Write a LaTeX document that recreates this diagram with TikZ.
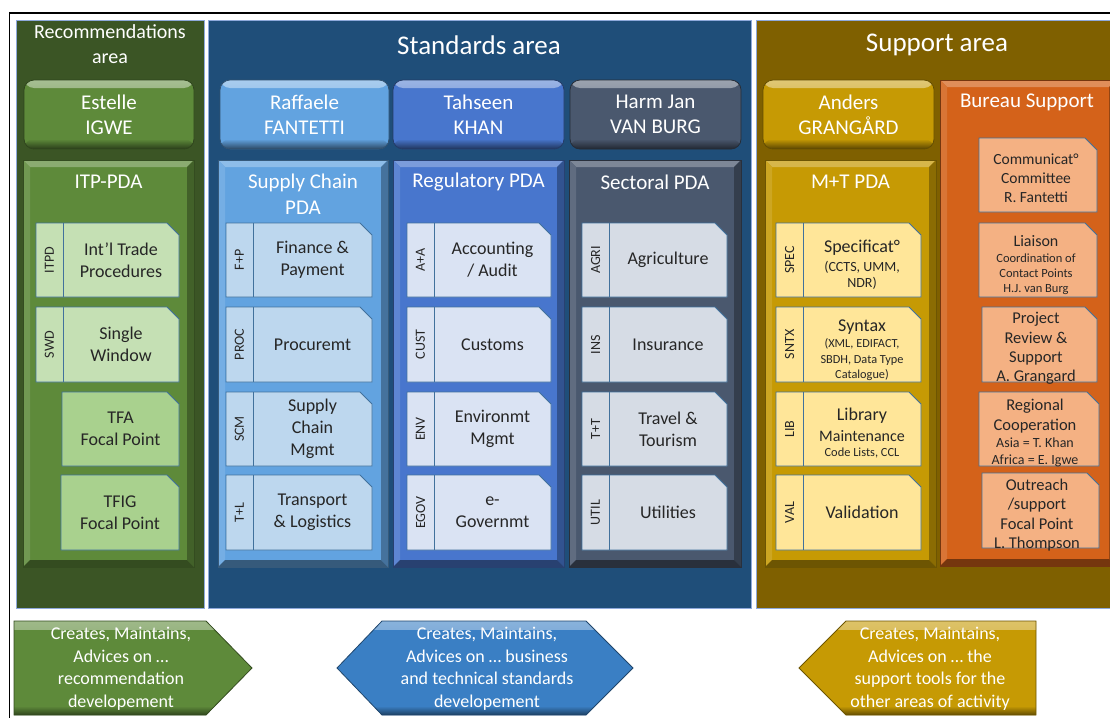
\documentclass[tikz,border=0pt]{standalone}
\usepackage{fontspec}
\setmainfont{Carlito}
\definecolor{recarea}{HTML}{3B5525}
\definecolor{stdarea}{HTML}{1F4E79}
\definecolor{suparea}{HTML}{7F6000}
\definecolor{areaedge}{HTML}{8EA9DB}
\definecolor{cgreen}{HTML}{5E8A3A}
\definecolor{clblue}{HTML}{62A3E0}
\definecolor{cblue}{HTML}{4876CD}
\definecolor{cslate}{HTML}{4A586E}
\definecolor{cgold}{HTML}{C69A04}
\definecolor{corange}{HTML}{D4621A}
\definecolor{kgreenA}{HTML}{C5E0B4}
\definecolor{kgreenB}{HTML}{A9D18E}
\definecolor{klblue}{HTML}{BDD7EE}
\definecolor{kblue}{HTML}{DAE3F3}
\definecolor{kslate}{HTML}{D6DCE5}
\definecolor{kgold}{HTML}{FFE699}
\definecolor{korange}{HTML}{F4B183}
\definecolor{cardedge}{HTML}{41719C}
\definecolor{txt}{HTML}{262626}
\definecolor{arblue}{HTML}{3A7FC4}
\tikzset{
  fs/.style 2 args={font=\fontsize{#1}{#2}\selectfont},
  area/.style={fill=#1, draw=areaedge, line width=0.8pt},
  person/.style={fill=#1, draw=#1!50!black, line width=0.8pt, rounded corners=10pt,
    text=white, align=center, fs={21}{25},
    path picture={
      \shade[top color=#1!55!white, bottom color=#1] (path picture bounding box.north west) rectangle ([yshift=-8pt]path picture bounding box.north east);
      \shade[top color=#1, bottom color=#1!45!black] ([yshift=10pt]path picture bounding box.south west) rectangle (path picture bounding box.south east);
    }},
  pda/.style={fill=#1, draw=#1!55!black, line width=0.8pt, path picture={
      \fill[#1!72!white] (path picture bounding box.north west) -- (path picture bounding box.north east) -- ([shift={(-7pt,-7pt)}]path picture bounding box.north east) -- ([shift={(7pt,-7pt)}]path picture bounding box.north west) -- cycle;
      \fill[#1!88!white] (path picture bounding box.north west) -- ([shift={(7pt,-7pt)}]path picture bounding box.north west) -- ([shift={(7pt,7pt)}]path picture bounding box.south west) -- (path picture bounding box.south west) -- cycle;
      \fill[#1!70!black] (path picture bounding box.north east) -- (path picture bounding box.south east) -- ([shift={(-7pt,7pt)}]path picture bounding box.south east) -- ([shift={(-7pt,-7pt)}]path picture bounding box.north east) -- cycle;
      \fill[#1!55!black] (path picture bounding box.south west) -- (path picture bounding box.south east) -- ([shift={(-7pt,7pt)}]path picture bounding box.south east) -- ([shift={(7pt,7pt)}]path picture bounding box.south west) -- cycle;
    }},
  arrowbox/.style={fill=#1, draw=#1!55!black, line width=0.8pt, path picture={
      \shade[top color=#1!60!white, bottom color=#1] (path picture bounding box.north west) rectangle ([yshift=-8pt]path picture bounding box.north east);
      \shade[top color=#1, bottom color=#1!50!black] ([yshift=9pt]path picture bounding box.south west) rectangle (path picture bounding box.south east);
    }},
  ttl/.style={text=white, align=center, inner sep=0},
  cardbg/.style={fill=#1, draw=cardedge, line width=0.9pt},
  cardline/.style={draw=cardedge, line width=0.9pt},
  vlab/.style={rotate=90, text=txt, fs={14}{16}, inner sep=0},
  ctext/.style={text=txt, align=center, fs={18}{22}, inner sep=0},
  ln/.style={text=txt, anchor=base, inner sep=0},
  atext/.style={text=white, align=center, fs={18}{22.5}, inner sep=0},
}
% box node by corners
\newcommand\bx[7]{\node[#6, anchor=north west, inner sep=0, outer sep=0,
  minimum width={(#4-#2)*1pt}, minimum height={(#5-#3)*1pt}] (#1) at (#2,#3) {#7};}
% card with tag column
\newcommand\card[8]{%
  \path[cardbg=#6] (#2,#3) -- ({#4-12},#3) -- (#4,{#3+12}) -- (#4,#5) -- (#2,#5) -- cycle;
  \draw[cardline] ({#2+27},#3) -- ({#2+27},#5);
  \node[vlab] (#1-tag) at ({#2+13.5},{(#3+#5)/2}) {#7};
  \node[ctext] (#1) at ({(#2+27+#4)/2},{(#3+#5)/2}) {#8};}
% card without tag column
\newcommand\pcard[7]{%
  \path[cardbg=#6] (#2,#3) -- ({#4-12},#3) -- (#4,{#3+12}) -- (#4,#5) -- (#2,#5) -- cycle;
  \node[ctext] (#1) at ({(#2+#4)/2},{(#3+#5)/2}) {#7};}
\begin{document}
\begin{tikzpicture}[x=1pt,y=-1pt]
\useasboundingbox (0,0) rectangle (1110,717);
% frame
\draw[line width=2.5pt] (9,13) -- (1115,13);
\draw[line width=1.5pt] (9.5,12) -- (9.5,720);
% areas
\bx{recA}{16}{20}{204}{608}{area=recarea}{}
\bx{stdA}{208}{20}{751}{608}{area=stdarea}{}
\bx{supA}{756}{20}{1116}{608}{area=suparea}{}
\node[ttl, fs={20}{25}] (recT) at (110,44.5) {Recommendations\\area};
\node[ttl, fs={27}{30}] (stdT) at (479,45) {Standards area};
\node[ttl, fs={27}{30}] (supT) at (937,45) {Support area};
% person boxes
\bx{estelle}{24}{80}{194}{149}{person=cgreen}{Estelle\\IGWE}
\bx{raffaele}{220}{80}{389}{149}{person=clblue}{Raffaele\\FANTETTI}
\bx{tahseen}{393}{80}{564}{149}{person=cblue}{Tahseen\\KHAN}
\bx{harm}{570}{80}{741}{149}{person=cslate}{Harm Jan\\VAN BURG}
\bx{anders}{763}{80}{934}{149}{person=cgold}{Anders\\GRANGÅRD}
% PDA boxes
\bx{itp}{23}{160}{194}{567}{pda=cgreen}{}
\bx{scp}{218}{160}{388}{567}{pda=clblue}{}
\bx{regp}{393}{160}{564}{567}{pda=cblue}{}
\bx{secp}{569}{160}{741}{567}{pda=cslate}{}
\bx{mtp}{765}{160}{936}{567}{pda=cgold}{}
\bx{bur}{940}{80}{1116}{566}{pda=corange}{}
\node[ttl, fs={21}{26}] (itpT) at (108.5,182) {ITP-PDA};
\node[ttl, fs={21}{26}] (scpT) at (303,194.5) {Supply Chain\\PDA};
\node[ttl, fs={21}{26}] (regpT) at (478.5,182) {Regulatory PDA};
\node[ttl, fs={21}{26}] (secpT) at (655,182) {Sectoral PDA};
\node[ttl, fs={21}{26}] (mtpT) at (850.5,182) {M+T PDA};
\node[ttl, fs={21}{26}] (burT) at (1027,102) {Bureau Support};
% ITP cards
\card{itpd}{36}{223}{179}{297}{kgreenA}{ITPD}{Int’l Trade\\Procedures}
\card{swd}{36}{307}{179}{382}{kgreenA}{SWD}{Single\\Window}
\pcard{tfa}{62}{392}{179}{466}{kgreenB}{TFA\\Focal Point}
\pcard{tfig}{61}{475}{179}{550}{kgreenB}{TFIG\\Focal Point}
% Supply chain cards
\card{fp}{226}{223}{372}{297}{klblue}{F+P}{Finance \&\\Payment}
\card{proc}{226}{307}{372}{382}{klblue}{PROC}{Procuremt}
\card{scm}{226}{392}{372}{466}{klblue}{SCM}{Supply\\Chain\\Mgmt}
\card{tl}{226}{475}{372}{550}{klblue}{T+L}{Transport\\\& Logistics}
% Regulatory cards
\card{aa}{407}{223}{551}{297}{kblue}{A+A}{Accounting\\/ Audit}
\card{cust}{407}{307}{551}{382}{kblue}{CUST}{Customs}
\card{env}{407}{392}{551}{466}{kblue}{ENV}{Environmt\\Mgmt}
\card{egov}{407}{475}{551}{550}{kblue}{EGOV}{e-\\Governmt}
% Sectoral cards
\card{agri}{582}{223}{727}{297}{kslate}{AGRI}{Agriculture}
\card{ins}{582}{307}{727}{382}{kslate}{INS}{Insurance}
\card{tt}{582}{392}{727}{466}{kslate}{T+T}{Travel \&\\Tourism}
\card{util}{582}{475}{727}{550}{kslate}{UTIL}{Utilities}
% M+T cards
\card{spec}{776}{223}{921}{297}{kgold}{SPEC}{}
\node[ln, fs={18}{20}] (spec1) at (862,252.5) {Specificat°};
\node[ln, fs={14}{16}] (spec2) at (862,271.5) {(CCTS, UMM,};
\node[ln, fs={14}{16}] (spec3) at (862,287.5) {NDR)};
\card{sntx}{776}{307}{921}{382}{kgold}{SNTX}{}
\node[ln, fs={18}{20}] (sntx1) at (862,331.5) {Syntax};
\node[ln, fs={12.3}{14}] (sntx2) at (862,347) {(XML, EDIFACT,};
\node[ln, fs={12.3}{14}] (sntx3) at (862,363) {SBDH, Data Type};
\node[ln, fs={12.3}{14}] (sntx4) at (862,378) {Catalogue)};
\card{lib}{776}{392}{921}{466}{kgold}{LIB}{}
\node[ln, fs={18}{20}] (lib1) at (862,420.5) {Library};
\node[ln, fs={16}{18}] (lib2) at (862,441) {Maintenance};
\node[ln, fs={12.4}{14}] (lib3) at (862,456) {Code Lists, CCL};
\card{val}{776}{475}{921}{550}{kgold}{VAL}{Validation}
% Bureau cards
\pcard{comm}{979}{138}{1097}{212}{korange}{}
\node[ln, fs={15.5}{18}] (comm1) at (1036,164) {Communicat°};
\node[ln, fs={15.5}{18}] (comm2) at (1036,183.5) {Committee};
\node[ln, fs={15.5}{18}] (comm3) at (1036,202) {R. Fantetti};
\pcard{liai}{979}{223}{1097}{297}{korange}{}
\node[ln, fs={16}{18}] (liai1) at (1036,246) {Liaison};
\node[ln, fs={12.5}{14}] (liai2) at (1036,262) {Coordination of};
\node[ln, fs={12.5}{14}] (liai3) at (1036,277) {Contact Points};
\node[ln, fs={12.5}{14}] (liai4) at (1036,292) {H.J. van Burg};
\pcard{proj}{982}{307}{1097}{382}{korange}{}
\node[ln, fs={16.5}{19}] (proj1) at (1036,323) {Project};
\node[ln, fs={16.5}{19}] (proj2) at (1036,343) {Review \&};
\node[ln, fs={16.5}{19}] (proj3) at (1036,362) {Support};
\node[ln, fs={16.5}{19}] (proj4) at (1036,381) {A. Grangard};
\pcard{regc}{979}{392}{1099}{466}{korange}{}
\node[ln, fs={16.5}{19}] (regc1) at (1035,410.5) {Regional};
\node[ln, fs={16.5}{19}] (regc2) at (1035,430) {Cooperation};
\node[ln, fs={14}{16}] (regc3) at (1035,447.5) {Asia = T. Khan};
\node[ln, fs={14}{16}] (regc4) at (1035,464.5) {Africa = E. Igwe};
\pcard{outr}{982}{473}{1099}{548}{korange}{}
\node[ln, fs={16.5}{19}] (outr1) at (1037,490) {Outreach};
\node[ln, fs={16.5}{19}] (outr2) at (1037,509) {/support};
\node[ln, fs={16.5}{19}] (outr3) at (1037,529) {Focal Point};
\node[ln, fs={16.5}{19}] (outr4) at (1037,548) {L. Thompson};
% bottom arrows
\path[arrowbox=cgreen] (14,621) -- (206,621) -- (252,668) -- (206,715) -- (14,715) -- cycle;
\path[arrowbox=arblue] (337,668) -- (382,621) -- (586,621) -- (633,668) -- (586,715) -- (382,715) -- cycle;
\path[arrowbox=cgold] (799,668) -- (846,621) -- (1036,621) -- (1036,715) -- (846,715) -- cycle;
\node[atext] (agreen) at (121,668.5) {Creates, Maintains,\\Advices on …\\recommendation\\developement};
\node[atext] (ablue) at (487,668.5) {Creates, Maintains,\\Advices on … business\\and technical standards\\developement};
\node[atext] (agold) at (930,668.5) {Creates, Maintains,\\Advices on … the\\support tools for the\\other areas of activity};
\end{tikzpicture}
\end{document}
